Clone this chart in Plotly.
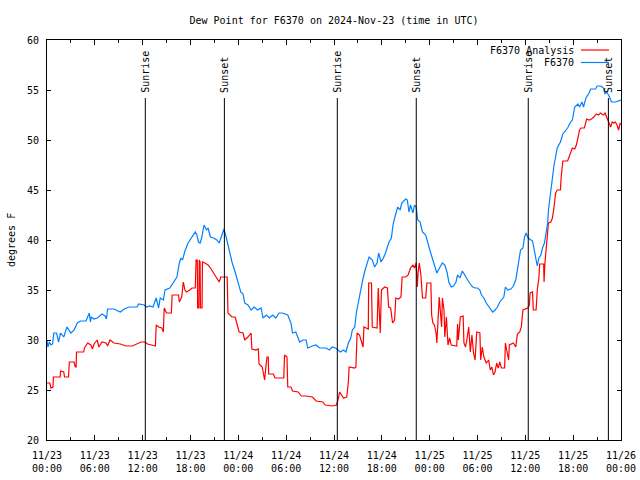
import pandas as pd
import plotly.graph_objects as go

# ---- data (hours after 2024-11-23 00:00 UTC, degrees F) ----
analysis_hours = [0.0, 0.35, 0.5, 0.75, 0.8, 1.5, 1.65, 1.7, 2.1, 2.2, 2.7, 2.8, 3.4, 3.55, 3.65, 3.7, 4.6, 4.7,
                  5.1, 5.5, 5.7, 5.9, 6.3, 6.5, 6.9, 7.4, 7.6, 7.9, 8.4, 9.2, 9.9, 10.7, 11.3, 11.8, 12.3, 12.6,
                  13.1, 13.6, 13.7, 14.0, 14.4, 14.6, 14.7, 15.0, 15.6, 15.7, 16.5, 16.6, 16.9, 17.1, 17.3, 17.5,
                  17.9, 18.2, 18.6, 18.7, 18.85, 18.9, 19.05, 19.1, 19.2, 19.25, 19.45, 19.5, 19.8, 20.2, 20.5,
                  20.9, 21.3, 21.6, 21.8, 22.6, 22.7, 23.2, 23.6, 23.8, 24.1, 24.6, 24.8, 25.2, 25.6, 25.7, 26.2,
                  26.5, 26.6, 27.0, 27.3, 27.5, 27.6, 27.75, 27.8, 28.4, 28.6, 29.7, 29.8, 30.1, 30.2, 30.6, 30.8,
                  31.5, 31.9, 32.5, 33.3, 33.75, 34.6, 34.9, 35.8, 36.3, 36.5, 36.7, 36.9, 37.2, 37.6, 37.8, 37.9,
                  38.6, 38.75, 38.8, 38.9, 39.2, 39.4, 39.65, 39.75, 40.15, 40.3, 40.35, 40.7, 40.8, 41.4, 41.55,
                  41.7, 41.8, 41.95, 42.35, 42.7, 42.85, 43.1, 43.35, 43.6, 43.75, 44.1, 44.4, 44.55, 45.0, 45.3,
                  45.6, 45.9, 46.1, 46.3, 46.45, 46.55, 46.7, 46.9, 47.1, 47.5, 47.65, 48.15, 48.25, 48.4, 48.6,
                  48.8, 48.9, 49.2, 49.35, 49.5, 49.6, 49.8, 49.9, 50.1, 50.3, 50.5, 50.7, 51.1, 51.4, 51.5, 51.6,
                  51.85, 52.2, 52.3, 52.5, 52.7, 52.9, 53.1, 53.3, 53.5, 53.7, 53.9, 54.3, 54.4, 54.6, 54.8, 55.1,
                  55.4, 55.6, 55.8, 56.0, 56.2, 56.4, 56.6, 56.8, 57.0, 57.4, 57.5, 57.7, 57.9, 58.0, 58.5, 58.8,
                  59.0, 59.3, 59.5, 59.7, 60.0, 60.3, 60.5, 60.6, 60.9, 61.0, 61.35, 61.5, 61.7, 61.8, 62.3, 62.35,
                  62.45, 62.6, 62.8, 62.9, 63.2, 63.4, 63.6, 63.8, 64.0, 64.4, 64.5, 64.7, 65.3, 65.5, 65.7, 65.9,
                  66.2, 66.4, 66.6, 66.8, 67.0, 67.4, 67.7, 68.0, 68.3, 68.6, 68.9, 69.2, 69.4, 69.8, 70.0, 70.2,
                  70.5, 70.7, 70.9, 71.1, 71.3, 71.5, 71.7, 71.9, 72.0]
analysis_values = [25.7, 25.7, 25.2, 25.3, 26.3, 26.3, 26.3, 26.9, 26.8, 26.3, 26.3, 27.8, 27.8, 27.3, 27.3, 28.8, 28.8, 29.2,
                   29.7, 29.5, 29.1, 29.6, 30.0, 29.3, 29.8, 29.7, 29.4, 30.0, 29.7, 29.6, 29.4, 29.4, 29.6, 29.8, 29.8, 29.6,
                   29.5, 29.4, 31.5, 31.3, 31.2, 30.8, 33.2, 32.7, 32.7, 34.5, 34.5, 33.8, 34.3, 35.8, 35.0, 34.8,
                   35.0, 35.2, 35.2, 38.0, 38.0, 33.2, 33.2, 38.0, 37.8, 33.2, 33.2, 37.8, 37.7, 37.5, 37.2,
                   36.7, 36.3, 35.8, 36.3, 36.3, 32.7, 32.3, 32.3, 31.7, 30.8, 30.7, 30.0, 30.3, 30.7, 29.1, 29.0,
                   29.1, 27.6, 27.3, 26.0, 27.7, 28.3, 28.3, 26.6, 26.6, 26.2, 26.2, 28.5, 28.3, 25.3, 25.3, 24.9,
                   24.8, 24.4, 24.4, 24.3, 23.9, 23.8, 23.5, 23.4, 23.5, 24.0, 24.8, 24.5, 24.2, 24.3, 25.8, 27.3,
                   27.2, 27.3, 29.0, 30.7, 30.5, 30.0, 29.3, 31.3, 31.1, 31.1, 35.7, 35.7, 31.3, 31.2, 35.2,
                   32.8, 30.7, 35.0, 35.3, 35.2, 33.3, 33.2, 31.7, 32.0, 34.2, 34.1, 34.3, 36.3, 36.3, 36.5,
                   37.2, 37.5, 37.2, 37.7, 35.3, 36.8, 37.7, 36.5, 34.2, 34.2, 35.7, 35.7, 32.5, 31.7, 31.5,
                   30.7, 29.7, 34.3, 32.5, 31.3, 34.2, 33.0, 30.3, 32.3, 29.5, 30.2, 29.5, 29.4, 29.4, 31.6, 30.0,
                   32.3, 32.4, 29.7, 29.3, 30.2, 31.3, 28.8, 30.5, 28.7, 28.0, 30.8, 30.7, 28.0, 29.3, 28.3, 27.7,
                   28.0, 27.0, 27.3, 26.5, 26.8, 27.7, 27.2, 27.8, 27.2, 27.2, 29.7, 28.7, 28.0, 29.5, 29.7, 29.3,
                   30.6, 30.8, 31.3, 33.0, 33.1, 33.2, 33.5, 34.7, 34.8, 33.0, 33.0, 35.0, 36.2, 37.6, 37.6, 35.8,
                   37.6, 38.8, 40.2, 41.7, 41.8, 42.2, 43.3, 44.7, 45.0, 45.0, 46.3, 47.9, 47.9, 48.3, 48.8, 49.2,
                   49.1, 49.5, 50.2, 51.0, 51.2, 51.2, 52.1, 52.0, 52.1, 52.3, 52.6, 52.5, 52.7, 52.5, 52.7, 52.3,
                   51.8, 51.3, 51.8, 51.7, 51.8, 51.5, 51.0, 51.7, 51.6]

obs_hours = [0.0, 0.1, 0.3, 0.5, 0.7, 0.85, 1.2, 1.45, 1.7, 2.1, 2.5, 3.0, 3.4, 3.8, 4.2, 4.9, 5.3, 5.45, 5.55,
             5.9, 6.3, 6.9, 7.3, 7.45, 7.6, 8.4, 9.2, 9.7, 10.3, 11.3, 11.5, 12.2, 12.5, 12.9, 13.3, 13.7, 14.0,
             14.2, 14.6, 14.8, 15.4, 15.8, 16.3, 16.6, 16.8, 17.0, 17.3, 17.7, 18.2, 18.6, 18.8, 19.0, 19.2,
             19.4, 19.7, 20.0, 20.2, 20.5, 20.9, 21.3, 21.6, 21.9, 22.2, 22.5, 22.75, 23.2, 23.6, 24.0, 24.3,
             24.6, 24.8, 25.2, 25.6, 26.0, 26.4, 26.85, 27.1, 27.5, 27.9, 28.3, 28.7, 29.1, 29.5, 30.2, 30.6,
             30.8, 31.2, 31.7, 32.1, 32.5, 32.7, 33.3, 33.75, 34.2, 35.0, 35.4, 35.8, 36.2, 36.5, 36.8, 37.2,
             37.5, 37.8, 38.1, 38.3, 38.6, 38.8, 39.0, 39.3, 39.6, 39.9, 40.15, 40.4, 40.8, 41.1, 41.4, 41.6,
             41.9, 42.2, 42.5, 42.9, 43.2, 43.4, 43.7, 44.0, 44.3, 44.5, 45.0, 45.2, 45.4, 45.6, 45.9, 46.1,
             46.3, 46.5, 46.8, 47.1, 47.5, 47.8, 48.1, 48.4, 48.7, 48.9, 49.3, 49.6, 49.9, 50.2, 50.4, 50.7,
             51.0, 51.3, 51.5, 51.8, 52.1, 52.4, 52.7, 53.0, 53.4, 53.7, 54.0, 54.3, 54.5, 54.8, 55.1, 55.4,
             55.6, 55.9, 56.2, 56.5, 56.8, 57.1, 57.3, 57.5, 57.8, 58.2, 58.5, 58.8, 59.0, 59.2, 59.4, 59.7,
             59.9, 60.1, 60.35, 60.9, 61.1, 61.3, 61.5, 61.7, 61.95, 62.15, 62.4, 62.6, 62.8, 62.9, 63.1, 63.2,
             63.4, 63.6, 63.8, 64.0, 64.4, 64.7, 65.0, 65.3, 65.6, 65.9, 66.2, 66.6, 66.8, 67.1, 67.3, 67.6,
             68.0, 68.2, 68.8, 69.0, 69.5, 69.8, 70.0, 70.2, 70.5, 70.8, 71.3, 71.7, 72.0]
obs_values = [30.0, 29.3, 29.8, 29.5, 29.6, 30.7, 30.7, 29.8, 30.7, 30.3, 31.3, 30.7, 31.0, 31.7, 31.9, 31.9, 32.7, 31.8, 32.3,
              32.1, 32.2, 32.6, 32.4, 32.1, 33.1, 33.1, 32.8, 33.1, 33.3, 33.3, 33.6, 33.5, 33.3, 33.4, 33.3, 34.2, 33.2,
              34.2, 34.0, 35.0, 35.2, 35.7, 36.3, 37.7, 38.2, 38.0, 38.9, 39.7, 40.3, 40.8, 40.5, 39.8, 39.7,
              40.2, 41.5, 41.0, 41.2, 40.3, 40.2, 40.0, 39.7, 40.3, 41.1, 40.2, 39.3, 37.8, 36.8, 35.5, 34.8,
              34.6, 33.7, 33.5, 33.0, 33.3, 33.0, 33.2, 32.2, 32.5, 32.2, 32.5, 32.2, 32.7, 32.7, 32.5, 31.7,
              30.7, 30.8, 29.8, 30.0, 30.0, 29.2, 29.4, 29.5, 29.2, 29.2, 29.0, 29.3, 29.2, 29.0, 28.8, 29.0,
              28.8, 29.7, 30.2, 31.0, 31.3, 32.7, 33.5, 35.0, 36.0, 37.0, 37.8, 38.3, 38.0, 37.3, 37.7, 38.7,
              37.8, 38.2, 38.8, 39.8, 40.2, 41.5, 42.5, 43.3, 43.0, 43.7, 44.1, 44.0, 42.8, 43.5, 42.7, 43.5,
              43.3, 42.0, 41.8, 40.8, 40.5, 39.5, 38.8, 38.0, 37.3, 36.7, 37.3, 37.7, 37.5, 36.7, 35.8, 35.3,
              35.4, 35.8, 36.5, 36.2, 36.9, 36.5, 36.0, 35.7, 35.3, 35.2, 35.2, 35.0, 34.5, 34.2, 33.7, 33.4,
              33.2, 32.8, 33.0, 33.3, 33.8, 34.1, 34.3, 35.3, 35.0, 35.1, 35.4, 36.0, 36.9, 38.0, 39.0, 39.2,
              40.3, 40.7, 40.2, 39.9, 39.0, 38.2, 37.4, 38.2, 38.5, 39.2, 39.7, 40.7, 41.7, 43.0, 44.3, 45.5,
              46.7, 47.5, 48.3, 49.2, 49.8, 50.6, 50.9, 51.2, 51.7, 52.0, 53.3, 53.6, 53.3, 53.8, 53.3, 54.2,
              54.7, 55.1, 55.1, 55.4, 55.4, 55.2, 54.6, 54.8, 54.4, 53.8, 53.8, 53.9, 54.0]

event_times = ["2024-11-23 12:20", "2024-11-23 22:15", "2024-11-24 12:25",
               "2024-11-24 22:19", "2024-11-25 12:22", "2024-11-25 22:25"]
event_labels = ["Sunrise", "Sunset", "Sunrise", "Sunset", "Sunrise", "Sunset"]

tick_times = pd.date_range("2024-11-23 00:00", "2024-11-26 00:00", freq="6h")
tick_labels = [t.strftime("%m/%d") + "<br>" + t.strftime("%H:%M") for t in tick_times]

series_names = ["F6370 Analysis", "F6370"]
series_colors = ["#ff0000", "#0080ff"]

# ---- figure ----
base = pd.Timestamp("2024-11-23 00:00")
t_analysis = base + pd.to_timedelta(analysis_hours, unit="h")
t_obs = base + pd.to_timedelta(obs_hours, unit="h")

FONT = "DejaVu Sans Mono"
fig = go.Figure()
fig.add_trace(go.Scatter(x=t_analysis, y=analysis_values, mode="lines", name=series_names[0],
                         line=dict(color=series_colors[0], width=1.2), showlegend=False))
fig.add_trace(go.Scatter(x=t_obs, y=obs_values, mode="lines", name=series_names[1],
                         line=dict(color=series_colors[1], width=1.2), showlegend=False))

for et, lab in zip(event_times, event_labels):
    fig.add_shape(type="line", xref="x", yref="y", x0=et, x1=et, y0=20, y1=54.2,
                  line=dict(color="black", width=1))
    fig.add_annotation(x=et, y=54.65, xref="x", yref="y", text=lab, textangle=-90,
                       showarrow=False, xanchor="center", yanchor="bottom",
                       font=dict(family=FONT, size=10, color="black"), borderpad=0)

# manual legend (gnuplot style: text right-aligned, sample to the right)
W, H = 640, 480
L, R, T, B = 47, 19, 40, 40
pw, ph = W - L - R, H - T - B
def px2paper(px, py):
    return (px - L) / pw, 1 - (py - T) / ph
for i, (nm, col) in enumerate(zip(series_names, series_colors)):
    ly = 50 + i * 12.5
    tx, ty = px2paper(575, ly)
    fig.add_annotation(x=tx, y=ty, xref="paper", yref="paper", text=nm, showarrow=False,
                       xanchor="right", yanchor="middle", borderpad=0,
                       font=dict(family=FONT, size=10, color="black"))
    x0, y0 = px2paper(581, ly)
    x1, _ = px2paper(609, ly)
    fig.add_shape(type="line", xref="paper", yref="paper", x0=x0, x1=x1, y0=y0, y1=y0,
                  line=dict(color=col, width=1.2))

ax_x, ax_y = px2paper(11, 240)
fig.add_annotation(x=ax_x, y=ax_y, xref="paper", yref="paper", text="degrees F", textangle=-90,
                   showarrow=False, xanchor="center", yanchor="middle",
                   font=dict(family=FONT, size=10, color="black"))

fig.update_layout(
    width=W, height=H,
    margin=dict(l=L, r=R, t=T, b=B, autoexpand=False),
    paper_bgcolor="white", plot_bgcolor="white",
    title=dict(text="Dew Point for F6370 on 2024-Nov-23 (time in UTC)", x=(L + pw / 2) / W,
               xanchor="center", y=1 - 20 / H, yanchor="middle",
               font=dict(family=FONT, size=10, color="black")),
    font=dict(family=FONT, size=10, color="black"),
    showlegend=False,
)
fig.update_xaxes(range=[tick_times[0], tick_times[-1]], tickvals=list(tick_times), ticktext=tick_labels,
                 ticks="inside", ticklen=5, tickcolor="black", showline=True, linecolor="black",
                 linewidth=1, mirror="ticks", showgrid=False, zeroline=False, automargin=False,
                 ticklabelstandoff=6,
                 minor=dict(dtick=3 * 3600 * 1000, ticks="inside", ticklen=3, tickcolor="black", showgrid=False),
                 tickfont=dict(family=FONT, size=10, color="black"))
fig.update_yaxes(range=[20, 60], dtick=5, tick0=20, ticks="inside", ticklen=4, tickcolor="black",
                 showline=True, linecolor="black", linewidth=1, mirror="ticks", showgrid=False,
                 zeroline=False, automargin=False, ticklabelstandoff=5,
                 tickfont=dict(family=FONT, size=10, color="black"))

fig.write_html("out.html", config={"displayModeBar": False, "staticPlot": True},
               post_script="document.body.style.margin='0px';document.body.style.overflow='hidden';")
